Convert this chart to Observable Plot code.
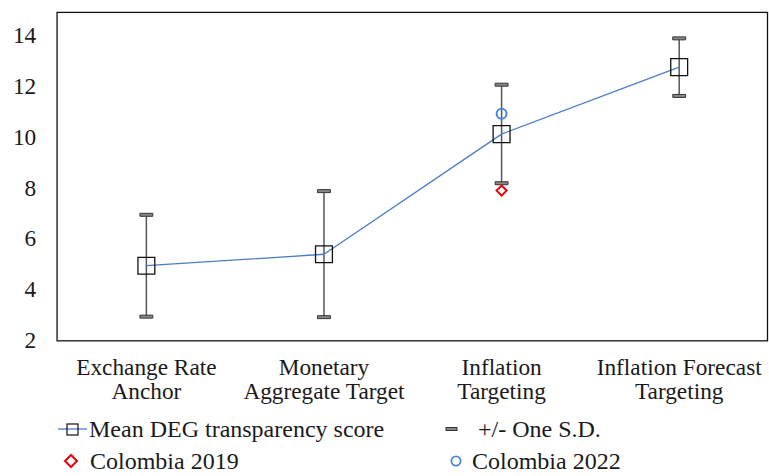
<!DOCTYPE html>
<html>
<head>
<meta charset="utf-8">
<script src="https://cdn.jsdelivr.net/npm/d3@7"></script>
<script src="https://cdn.jsdelivr.net/npm/@observablehq/plot@0.6"></script>
<style>
  html, body { margin: 0; padding: 0; background: #fff; overflow: hidden; }
  #wrap { width: 769px; overflow: hidden; font-family: 'Liberation Serif', 'Times New Roman', serif; color: #1a1a1a; }
  #legend { position: relative; width: 769px; height: 66px; font-size: 24px; line-height: 22px; }
  #legend .item { position: absolute; display: flex; align-items: center; white-space: nowrap; height: 22px; }
  #legend svg { overflow: visible; }
</style>
</head>
<body>
<div id="wrap">
  <div id="chart"></div>
  <div id="legend"></div>
</div>
<script>
const categories = ["Exchange Rate\nAnchor", "Monetary\nAggregate Target", "Inflation\nTargeting", "Inflation Forecast\nTargeting"];
const means = [4.95, 5.40, 10.12, 12.75];
const upper = [6.95, 7.88, 12.06, 13.88];
const lower = [2.95, 2.93, 8.19, 11.62];
const yTicks = [2, 4, 6, 8, 10, 12, 14];
const colombia2019 = [{cat: "Inflation\nTargeting", value: 7.9}];
const colombia2022 = [{cat: "Inflation\nTargeting", value: 10.92}];

const table = categories.map((c, i) => ({cat: c, mean: means[i], lo: lower[i], hi: upper[i]}));

const capSymbol = {draw(ctx) { ctx.rect(-6.5, -1.5, 13, 3); }};
const font = "'Liberation Serif', 'Times New Roman', serif";

const chart = Plot.plot({
  width: 775,
  height: 410,
  marginLeft: 57,
  marginRight: 2,
  marginTop: 12,
  marginBottom: 67,
  style: {fontFamily: font, color: "#1a1a1a", background: "#fff"},
  x: {type: "point", domain: categories, padding: 0.5},
  y: {domain: [2, 14.9]},
  marks: [
    Plot.axisY({ticks: yTicks, tickSize: 0, tickPadding: 21, fontSize: 23.5, label: null}),
    Plot.axisX({tickSize: 0, tickPadding: 18, fontSize: 23.5, lineHeight: 1.0, label: null}),
    Plot.ruleX(table, {x: "cat", y1: "lo", y2: "hi", stroke: "#555", strokeWidth: 1.5}),
    Plot.dot(table, {x: "cat", y: "hi", symbol: capSymbol, fill: "#888", stroke: "#333", strokeWidth: 1, r: 4}),
    Plot.dot(table, {x: "cat", y: "lo", symbol: capSymbol, fill: "#888", stroke: "#333", strokeWidth: 1, r: 4}),
    Plot.line(table, {x: "cat", y: "mean", stroke: "#4a7cc4", strokeWidth: 1.3}),
    Plot.dot(table, {x: "cat", y: "mean", symbol: "square", r: 9.6, stroke: "#111", strokeWidth: 1.3, fill: "none"}),
    Plot.dot(colombia2019, {x: "cat", y: "value", symbol: "diamond2", r: 4.6, stroke: "#e8000b", strokeWidth: 2, fill: "none"}),
    Plot.dot(colombia2022, {x: "cat", y: "value", symbol: "circle", r: 5, stroke: "#4a86d8", strokeWidth: 2, fill: "none"}),
    Plot.frame({stroke: "#111", strokeWidth: 1.3})
  ]
});
document.getElementById("chart").appendChild(chart);

const legendItems = [
  {label: "Mean DEG transparency score", left: 57, center: 22,
   svg: '<svg width="32" height="16"><line x1="1" y1="8" x2="30" y2="8" stroke="#4a7cc4" stroke-width="1.3"/><rect x="10" y="3" width="11" height="11" fill="none" stroke="#111" stroke-width="1.2"/></svg>'},
  {label: "+/- One S.D.", left: 444, center: 22,
   svg: '<svg width="34" height="16"><rect x="2" y="6.5" width="11" height="3" fill="#888" stroke="#333" stroke-width="1"/></svg>'},
  {label: "Colombia 2019", left: 64, center: 54,
   svg: '<svg width="26" height="16"><path d="M7,2 L13,8 L7,14 L1,8 Z" fill="none" stroke="#e8000b" stroke-width="2"/></svg>'},
  {label: "Colombia 2022", left: 450, center: 54,
   svg: '<svg width="22" height="16"><circle cx="6" cy="8" r="4.6" fill="none" stroke="#4a86d8" stroke-width="1.8"/></svg>'}
];
const legend = document.getElementById("legend");
for (const it of legendItems) {
  const d = document.createElement("div");
  d.className = "item";
  d.style.left = it.left + "px";
  d.style.top = (it.center - 11) + "px";
  d.innerHTML = it.svg + '<span>' + it.label + '</span>';
  legend.appendChild(d);
}
</script>
</body>
</html>
